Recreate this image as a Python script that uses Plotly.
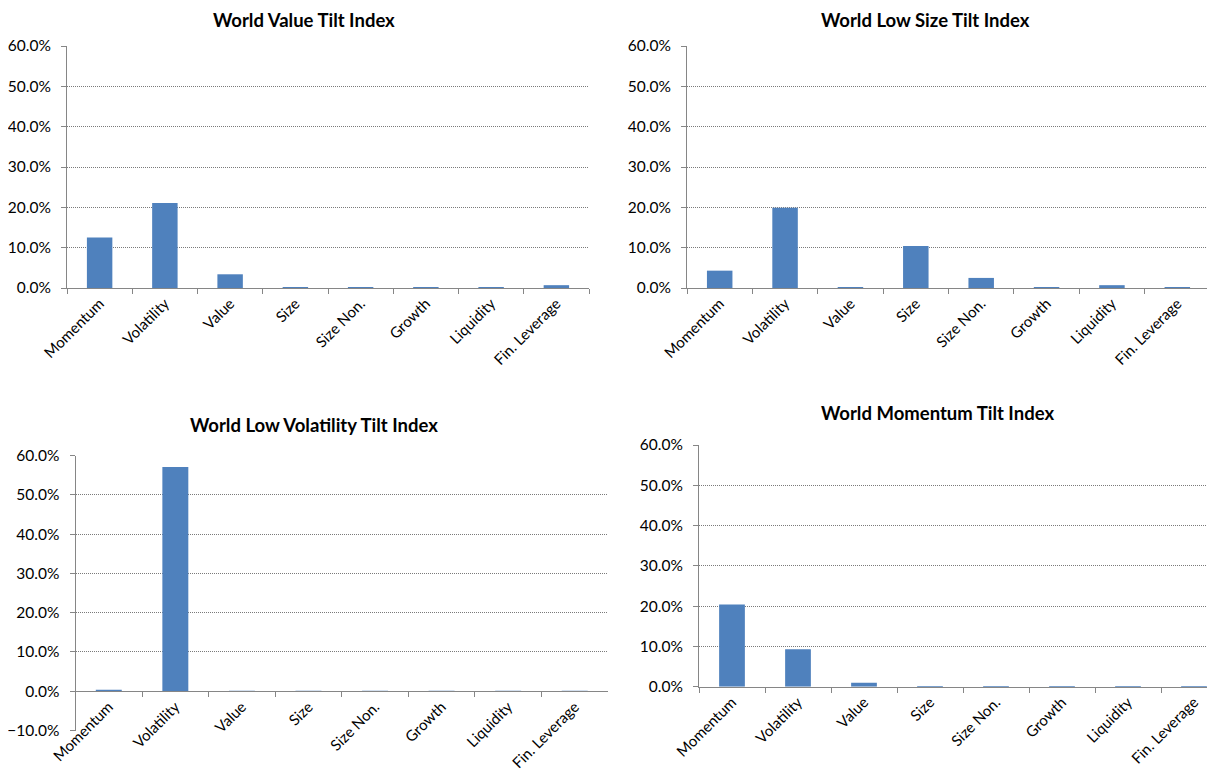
import plotly.graph_objects as go

categories = ["Momentum", "Volatility", "Value", "Size", "Size Non.", "Growth", "Liquidity", "Fin. Leverage"]

value_tilt = [0.125, 0.211, 0.034, 0.001, 0.001, 0.001, 0.001, 0.007]
low_size_tilt = [0.043, 0.199, 0.001, 0.104, 0.025, 0.001, 0.007, 0.001]
low_vol_tilt = [0.004, 0.571, 0.001, 0.001, 0.001, 0.001, 0.001, 0.001]
momentum_tilt = [0.204, 0.093, 0.010, 0.001, 0.001, 0.001, 0.001, 0.001]

titles = ["World Value Tilt Index", "World Low Size Tilt Index",
          "World Low Volatility Tilt Index", "World Momentum Tilt Index"]
y_ticks = [-0.1, 0.0, 0.1, 0.2, 0.3, 0.4, 0.5, 0.6]

W, H = 1215, 778
OFF = 8  # page body margin in the browser
FONT = "Lato, 'Open Sans', sans-serif"
BAR = "#4F81BD"
AXIS = "#868686"
GRID = "#7a7a7a"

def px_x(p):
    return (p - OFF) / W

def px_y(p):
    return 1 - (p - OFF) / H

# panel geometry in screen pixels: x0, x1, ytop, ybottom, y range, title centre
panels = [
    dict(x0=67, x1=589, yt=46, yb=288, ymin=0.0, ymax=0.6, tx=304, ty=20, data=value_tilt),
    dict(x0=687, x1=1210, yt=46, yb=288, ymin=0.0, ymax=0.6, tx=925, ty=20, data=low_size_tilt),
    dict(x0=75.5, x1=608, yt=455.7, yb=730.5, ymin=-0.1, ymax=0.6, tx=314, ty=425, data=low_vol_tilt),
    dict(x0=699, x1=1227, yt=445, yb=686.7, ymin=0.0, ymax=0.6, tx=937, ty=413, data=momentum_tilt),
]

fig = go.Figure()
annotations = []
for i, p in enumerate(panels):
    n = "" if i == 0 else str(i + 1)
    xa = "xaxis" + n
    ya = "yaxis" + n
    fig.add_trace(go.Bar(
        x=categories, y=p["data"], xaxis="x" + n, yaxis="y" + n,
        marker=dict(color=BAR, line=dict(width=0)), showlegend=False,
        hoverinfo="x+y",
    ))
    x1 = min(p["x1"], W + OFF)
    frac = (x1 - p["x0"]) / (p["x1"] - p["x0"])
    xr = [-0.5, -0.5 + 8 * frac]
    y0p = px_y(p["yb"])
    y1p = px_y(p["yt"])
    zero_pos = y0p + (0 - p["ymin"]) / (p["ymax"] - p["ymin"]) * (y1p - y0p)
    xaxis = dict(
        domain=[px_x(p["x0"]), min(1.0, px_x(x1))],
        range=xr,
        type="category",
        automargin=False,
        showline=True, linecolor=AXIS, linewidth=1,
        ticks="outside", ticklen=5, tickcolor=AXIS, tickwidth=1,
        tickson="boundaries",
        tickangle=-45,
        tickfont=dict(family=FONT, size=15, color="#000"),
        showgrid=False, zeroline=False,
        fixedrange=True,
    )
    if p["ymin"] < 0:
        xaxis.update(anchor="free", position=zero_pos)
    else:
        xaxis.update(anchor="y" + n)
    yaxis = dict(
        domain=[y0p, y1p],
        range=[p["ymin"], p["ymax"]],
        tickvals=[v for v in y_ticks if v >= p["ymin"] - 1e-9],
        tickformat=".1%",
        automargin=False,
        showline=True, linecolor=AXIS, linewidth=1,
        ticks="outside", ticklen=5, tickcolor=AXIS, tickwidth=1,
        tickfont=dict(family=FONT, size=15.5, color="#000"),
        ticklabelstandoff=7,
        showgrid=True, gridcolor=GRID, gridwidth=1, griddash="1px,1px",
        zeroline=False,
        anchor="x" + n,
        fixedrange=True,
    )
    fig.update_layout(**{xa: xaxis, ya: yaxis})
    annotations.append(dict(
        text="<b>" + titles[i] + "</b>", x=px_x(p["tx"]), y=px_y(p["ty"]),
        xref="paper", yref="paper", xanchor="center", yanchor="middle",
        showarrow=False, font=dict(family=FONT, size=18.5, color="#000"),
    ))

fig.update_layout(
    width=W, height=H,
    margin=dict(l=0, r=0, t=0, b=0, autoexpand=False),
    paper_bgcolor="white", plot_bgcolor="white",
    bargap=0.61,
    annotations=annotations,
    font=dict(family=FONT, color="#000"),
)

fig.write_html("out.html")
